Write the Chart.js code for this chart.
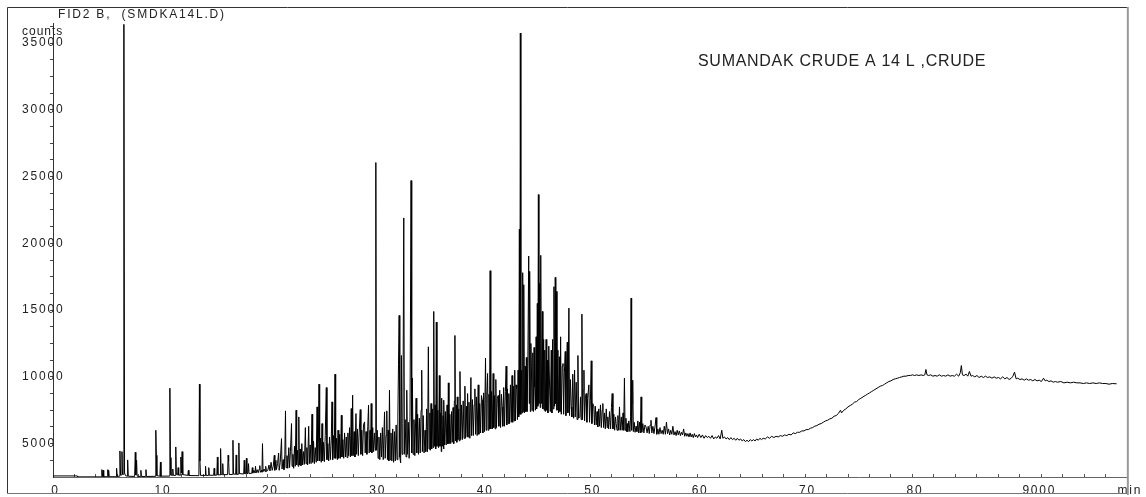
<!DOCTYPE html>
<html>
<head>
<meta charset="utf-8">
<script src="https://cdn.jsdelivr.net/npm/chart.js@4.4.1/dist/chart.umd.min.js"></script>
<style>
  html, body { margin: 0; padding: 0; background: #fff; }
  canvas { display: block; }
</style>
</head>
<body>
<canvas id="chrom" width="1146" height="497"></canvas>
<script>
// retention time (min), detector counts
const earlyTrace = [
  [0,2580],[2.25,2580],[2.3,2510],[4.5,2510],[4.55,3050],[4.6,2520],[4.63,2520],[4.67,3000],[4.72,2520],
  [5.05,2520],[5.1,3050],[5.15,2530],[5.18,3000],[5.23,2520],[5.87,2520],[5.92,3150],[5.97,2550],
  [6.18,2560],[6.23,4450],[6.29,2650],[6.37,2650],[6.42,4400],[6.47,2700],[6.55,2700],[6.6,36400],
  [6.66,2800],[6.75,2600],[6.9,2560],[6.95,3780],[7.0,2560],[7.6,2540],[7.66,4350],[7.71,2650],
  [7.78,3750],[7.83,2560],[8.13,2540],[8.18,3000],[8.23,2540],[8.6,2540],[8.65,3050],[8.7,2540],
  [9.5,2550],[9.57,6000],[9.62,4125],[9.67,2600],[9.95,2560],[10.0,3620],[10.05,2560],[10.82,2570],
  [10.88,9150],[10.93,3950],[10.98,2650],[11.1,2620],[11.15,3100],[11.2,2620],[11.38,2620],[11.43,4750],
  [11.48,2700],[11.6,2650],[11.65,3200],[11.7,2640],[11.85,2640],[11.9,4000],[11.95,2800],[12.02,4400],
  [12.08,2680],[12.55,2620],[12.6,3000],[12.65,2610],[13.58,2600],[13.63,9450],[13.68,3700],[13.73,2620],
  [14.15,2620],[14.2,3300],[14.25,2620],[14.45,2620],[14.5,3200],[14.55,2630],[14.95,2630],[15.0,3150],
  [15.05,2630],[15.25,2640],[15.3,4000],[15.35,2660],[15.55,2660],[15.6,4630],[15.65,2700],[15.75,2670],
  [15.8,3500],[15.85,2670],[16.25,2680],[16.3,4130],[16.35,3700],[16.4,2690],[16.7,2690],[16.75,5250],
  [16.8,2720],[17.0,2700],[17.05,4150],[17.1,2700],[17.25,2710],[17.3,5050],[17.35,2760],[17.75,2720],
  [17.8,3750],[17.85,2750],[17.95,2750],[18.0,3900],[18.05,2760],[18.15,2760],[18.2,3500],[18.25,2760],
  [18.5,2780],[18.55,3200],[18.6,2790],[18.7,3000],[18.8,2800],[18.85,3300],[18.9,2800],[19.0,3050],
  [19.1,2820],[19.2,3100],[19.25,3350],[19.3,2850],[19.4,3000],[19.45,2860],[19.5,5000],[19.55,2900],
  [19.65,3100],[19.75,2900],[19.8,3300],[19.87,2920]
];

const riseTrace = [
  [20.0,3000],[20.1,3400],[20.2,2950],[20.3,3600],[20.4,3000],[20.5,3300],[20.6,4125],[20.65,3000],
  [20.75,3750],[20.8,3050],[20.9,3500],[21.0,4300],[21.05,3000],[21.15,3600],[21.27,5375],[21.32,3100],
  [21.42,3800],[21.5,3050],[21.58,4200],[21.64,7450],[21.69,3200],[21.78,4100],[21.85,3150],[21.95,4700],
  [22.02,3200],[22.1,4400],[22.2,6500],[22.25,3300],[22.33,4200],[22.4,3150],[22.48,4800],[22.55,3300],
  [22.63,7500],[22.68,3400],[22.75,4500],[22.82,3300],[22.88,7000],[22.93,3400],[23.0,4600],[23.08,3350],
  [23.16,5000],[23.24,3400],[23.32,4400],[23.4,3450],[23.49,6200],[23.55,3500],[23.63,4700],[23.7,3400],
  [23.8,6300],[23.86,3500],[23.94,4900],[24.02,3500],[24.11,7200],[24.17,3600],[24.25,5200],[24.33,3500],
  [24.41,4700],[24.5,3600],[24.58,7750],[24.64,3700],[24.7,5000],[24.76,9450],[24.82,3700],[24.9,5400],
  [24.97,3600],[25.04,6500],[25.1,3700],[25.18,5100],[25.26,3650],[25.34,5600],[25.44,9200],[25.5,3800],
  [25.58,5000],[25.66,3700],[25.74,5500],[25.82,3800],[25.9,5200],[25.97,8125],[26.03,3800],[26.1,5600],
  [26.18,3900],[26.25,10200],[26.31,3900],[26.4,5400],[26.47,3800],[26.53,6000],[26.6,3900],[26.68,5700],
  [26.76,3900],[26.84,7125],[26.9,4000],[26.98,5300],[27.06,3900],[27.14,5800],[27.22,4000],[27.3,5500],
  [27.37,3950],[27.45,5800],[27.52,4100],[27.6,6200],[27.68,4000],[27.76,7625],[27.82,4100],[27.89,8625],
  [27.95,4100],[28.03,5900],[28.11,4000],[28.2,7250],[28.26,4200],[28.34,6100],[28.42,4100],[28.5,5800],
  [28.6,7550],[28.66,4200],[28.74,6000],[28.82,4100],[28.9,6400],[29.0,6625],[29.06,4300],[29.14,5900],
  [29.22,4200],[29.3,6300],[29.37,7875],[29.43,4300],[29.51,6000],[29.56,4400],[29.62,8000],[29.68,4300],
  [29.76,6200],[29.84,4400],[29.92,5800],[30.0,4500],[30.05,26050]
];

const humpTrace = [
  [30.1,4500],[30.18,6000],[30.26,3900],[30.34,5500],[30.42,3800],[30.5,5800],[30.58,4000],[30.66,6200],
  [30.74,3800],[30.86,7375],[30.92,3900],[31.0,5600],[31.07,7450],[31.13,3800],[31.2,6000],[31.26,3700],
  [31.32,9000],[31.38,3800],[31.46,5800],[31.54,3700],[31.62,6100],[31.7,3600],[31.78,5900],[31.86,3700],
  [31.94,6400],[32.02,3800],[32.1,7000],[32.16,10950],[32.22,14600],[32.28,4000],[32.36,3550],[32.43,11600],
  [32.49,4200],[32.57,6500],[32.65,21900],[32.71,4200],[32.78,6800],[32.86,4000],[32.93,9000],[32.99,4200],
  [33.07,6600],[33.15,3900],[33.23,7000],[33.33,24700],[33.39,4300],[33.45,9900],[33.52,4200],[33.6,6800],
  [33.68,4100],[33.8,8400],[33.86,4300],[33.94,7200],[34.02,4200],[34.1,6900],[34.18,4300],[34.26,7500],
  [34.32,10500],[34.38,4400],[34.46,7100],[34.54,4300],[34.63,6000],[34.7,4400],[34.78,7600],[34.86,4400],
  [34.94,12250],[35.0,4600],[35.08,7300],[35.12,4500],[35.19,8000],[35.25,4600],[35.32,7600],[35.38,4700],
  [35.44,14900],[35.5,4800],[35.57,7900],[35.62,4600],[35.68,14100],[35.74,4800],[35.82,7500],[35.89,4700],
  [35.96,10100],[36.02,4800],[36.1,7300],[36.14,4400],[36.18,8400],[36.24,4800],[36.31,7100],[36.35,4600],
  [36.39,8250],[36.45,4900],[36.52,7400],[36.6,4900],[36.68,7900],[36.74,5000],[36.8,9550],[36.86,5000],
  [36.94,7200],[37.02,5000],[37.1,7400],[37.16,5100],[37.24,7700],[37.3,5000],[37.36,8200],[37.41,13100],
  [37.47,5200],[37.55,7900],[37.59,5100],[37.63,8500],[37.69,5300],[37.76,7600],[37.82,5200],[37.88,10400],
  [37.94,5300],[38.02,7900],[38.1,5300],[38.18,8200],[38.26,5400],[38.34,9300],[38.4,5400],[38.48,7800],
  [38.54,5500],[38.59,8750],[38.65,5500],[38.72,8100],[38.8,5400],[38.9,9950],[38.96,5600],[39.04,8300],
  [39.12,5600],[39.2,7900],[39.27,9100],[39.33,5700],[39.41,8500],[39.48,5600],[39.58,9400],[39.64,5700],
  [39.72,8000],[39.8,5800],[39.88,8600],[39.95,8250],[40.01,5800],[40.09,8800],[40.17,5900],[40.26,11400],
  [40.32,6000],[40.38,8600],[40.45,10250],[40.51,6000],[40.58,8700],[40.63,6100],[40.69,17950],[40.75,6100],
  [40.82,8900],[40.9,6100],[40.97,10250],[41.03,6200],[41.1,8600],[41.16,6100],[41.22,9800],[41.28,6200],
  [41.36,8400],[41.44,8600],[41.5,6300],[41.58,9000],[41.66,6200],[41.74,8700],[41.81,7750],[41.87,6300],
  [41.95,9200],[42.03,6300],[42.11,8900],[42.18,10800],[42.24,6400],[42.3,9100],[42.37,6500],[42.43,8750],
  [42.5,6500],[42.58,9400],[42.66,6600],[42.73,10100],[42.79,6600],[42.86,9300],[42.92,6700],[42.98,10500],
  [43.04,6700],[43.1,9400],[43.17,9100],[43.23,6800],[43.29,10500],[43.35,7000],[43.41,21050],[43.46,7200],
  [43.5,35750],[43.55,7200],[43.62,10500],[43.67,7300],[43.72,17800],[43.77,7400],[43.82,16900],[43.88,7300],
  [43.95,10800],[44.0,7400],[44.06,11450],[44.12,7400],[44.2,11000],[44.28,19050],[44.33,8000],[44.37,17900],
  [44.43,7400],[44.48,12500],[44.53,10750],[44.59,7500],[44.66,11800],[44.72,7400],[44.78,12200],[44.84,9250],
  [44.9,7500],[44.97,13000],[45.02,7600],[45.08,15500],[45.13,7800],[45.18,23650],[45.23,8000],[45.3,17000],
  [45.35,7700],[45.4,19100],[45.45,8000],[45.55,14900],[45.6,7600],[45.67,12800],[45.72,7500],[45.77,12000],
  [45.83,7400],[45.9,12800],[45.96,7500],[46.01,11250],[46.07,7300],[46.15,12300],[46.23,8950],[46.29,7400],
  [46.38,12000],[46.44,7300],[46.5,12800],[46.56,7600],[46.63,16750],[46.69,7800],[46.75,17450],[46.8,8000],
  [46.85,16400],[46.91,7500],[47.0,12000],[47.06,7300],[47.13,11500],[47.19,7400],[47.25,13000],[47.31,7200],
  [47.4,10800],[47.47,11000],[47.53,7200],[47.6,10300],[47.68,11900],[47.74,7100],[47.8,10500],[47.87,12600],
  [47.93,7300],[48.02,15150],[48.08,7100],[48.16,9800],[48.24,7750],[48.3,7000],[48.38,10200],[48.46,6900],
  [48.55,10500],[48.61,7000],[48.7,9600],[48.78,6800],[48.86,11600],[48.92,6900],[49.04,7000],[49.1,8500],
  [49.16,6800],[49.23,14700],[49.29,6800],[49.36,9000],[49.42,10500],[49.48,6700],[49.56,8600],[49.63,8750],
  [49.69,6600],[49.77,8400],[49.88,9400],[49.94,6600],[50.02,8200],[50.1,11200],[50.16,6500],[50.24,8000],
  [50.34,7750],[50.4,6400],[50.48,7800],[50.56,6400],[50.64,7400],[50.71,6250],[50.8,7600],[50.88,6300],
  [50.96,7900],[51.04,6200],[51.12,7500],[51.18,8000],[51.25,6200],[51.33,7300],[51.41,6100],[51.5,7600],
  [51.58,6200],[51.64,7000],[51.72,6100],[51.8,7400],[51.9,6100],[51.98,7700],[52.05,8750],[52.12,6100],
  [52.2,7200],[52.28,6000],[52.36,7000],[52.42,6500],[52.5,6000],[52.58,7100],[52.66,6000],[52.73,7750],
  [52.8,6000],[52.9,7000],[52.98,6000],[53.06,7300],[53.12,6000],[53.19,9900],[53.25,6000],[53.33,6900],
  [53.38,5900],[53.44,6500],[53.5,5900],[53.6,6700],[53.7,5900],[53.76,7000],[53.81,15900],[53.86,6000],
  [53.92,8000],[53.96,9750],[54.02,5900],[54.1,6600],[54.18,5850],[54.27,6300],[54.35,5900],[54.44,6700],
  [54.52,5800],[54.6,6600],[54.67,5800],[54.74,8500],[54.8,5850],[54.9,6500],[55.0,5800],[55.1,6400],
  [55.2,6250],[55.3,5800],[55.4,6300],[55.5,5750],[55.58,6400],[55.66,6750],[55.74,5800],[55.84,6300],
  [55.94,5750],[56.04,6300],[56.13,6950],[56.2,5700]
];

const tailTrace = [
  [56.3,6100],[56.4,5700],[56.5,6200],[56.6,5750],[56.7,6000],[56.8,5700],[56.9,6300],[57.0,5700],
  [57.1,6600],[57.2,5750],[57.3,6100],[57.4,5650],[57.5,6000],[57.6,5700],[57.7,6300],[57.8,5650],
  [57.9,5900],[58.0,5600],[58.1,6000],[58.2,5650],[58.3,5950],[58.4,5600],[58.5,5850],[58.6,5650],
  [58.7,6100],[58.8,5550],[58.9,5800],[59.0,5550],[59.1,5750],[59.2,5500],[59.3,5800],[59.4,5500],
  [59.5,5700],[59.6,5450],[59.7,5750],[59.8,5500],[59.9,5650],[60.0,5450],[60.15,5700],[60.3,5450],
  [60.45,5650],[60.6,5400],[60.75,5600],[60.9,5450],[61.05,5550],[61.2,5400],[61.35,5600],[61.5,5350],
  [61.65,5500],[61.8,5400],[61.95,5600],[62.1,5350],[62.25,6000],[62.35,5400],[62.5,5500],[62.65,5350],
  [62.8,5450],[62.95,5300],[63.1,5450],[63.25,5300],[63.4,5400],[63.55,5250],[63.7,5400],[63.85,5250],
  [64.0,5350],[64.15,5200],[64.3,5300],[64.45,5150],[64.6,5250],[64.75,5150],[64.9,5300],[65.05,5200],
  [65.2,5300],[65.35,5200],[65.5,5350],[65.65,5250],[65.8,5400],[65.95,5300],[66.1,5400],[66.3,5350],
  [66.5,5500],[66.7,5400],[66.9,5550],[67.1,5450],[67.3,5550],[67.5,5500],[67.7,5600],[67.9,5550],
  [68.1,5650],[68.3,5600],[68.5,5700],[68.7,5650],[68.9,5800],[69.1,5750],[69.3,5850],[69.5,5850],
  [69.7,5950],[69.9,5950],[70.1,6050],[70.3,6050],[70.5,6150],[70.7,6200],[70.9,6300],[71.1,6350],
  [71.3,6450],[71.5,6500],[71.7,6600],[71.9,6700],[72.1,6750]
];

const plateauTrace = [
  [72.3,6850],[72.5,6900],[72.7,7050],[72.9,7100],[73.1,7250],[73.3,7500],[73.4,7300],[73.6,7500],
  [73.8,7600],[74.0,7750],[74.2,7850],[74.4,7950],[74.6,8100],[74.8,8150],[75.0,8300],[75.2,8400],
  [75.4,8500],[75.6,8600],[75.8,8700],[76.0,8800],[76.2,8900],[76.4,9000],[76.6,9100],[76.8,9200],
  [77.0,9300],[77.2,9350],[77.4,9450],[77.6,9550],[77.8,9650],[78.0,9700],[78.2,9800],[78.4,9850],
  [78.6,9900],[78.8,9950],[79.0,10000],[79.2,10050],[79.4,10050],[79.6,10100],[79.8,10100],[80.0,10150],
  [80.2,10100],[80.4,10150],[80.6,10100],[80.8,10150],[81.0,10100],[81.15,10150],[81.25,10550],[81.35,10150],
  [81.5,10100],[81.7,10150],[81.9,10050],[82.1,10100],[82.3,10050],[82.5,10150],[82.7,10050],[82.9,10100],
  [83.1,10050],[83.3,10150],[83.5,10050],[83.7,10100],[83.9,10050],[84.1,10200],[84.3,10050],[84.45,10300],
  [84.55,10850],[84.65,10150],[84.8,10100],[85.0,10200],[85.15,10050],[85.3,10400],[85.45,10050],[85.6,10100],
  [85.8,10000],[86.0,10100],[86.2,9950],[86.4,10050],[86.6,9950],[86.8,10050],[87.0,9950],[87.2,10000],
  [87.4,9900],[87.6,10000],[87.8,9900],[88.0,9950],[88.2,9850],[88.4,10000],[88.6,9850],[88.8,9950],
  [89.0,9800],[89.2,9900],[89.35,10050],[89.5,10350],[89.65,9850],[89.8,9900],[90.0,9800],[90.2,9850],
  [90.4,9750],[90.6,9850],[90.8,9750],[91.0,9800],[91.2,9700],[91.4,9800],[91.6,9700],[91.8,9750],
  [92.0,9650],[92.2,9900],[92.35,9700],[92.5,9750],[92.7,9650],[92.9,9700],[93.1,9600],[93.3,9650],
  [93.5,9600],[93.8,9650],[94.1,9550],[94.4,9600],[94.7,9550],[95.0,9600],[95.3,9550],[95.6,9550],
  [95.9,9500],[96.2,9550],[96.5,9500],[96.8,9550],[97.1,9500],[97.4,9550],[97.7,9500],[98.0,9500],
  [98.3,9450],[98.6,9500],[99.0,9480]
];

const trace = [...earlyTrace, ...riseTrace, ...humpTrace, ...tailTrace, ...plateauTrace];

// axis labels
const xMajor = [0, 10, 20, 30, 40, 50, 60, 70, 80, 90, 100];
const xMajorText = ['0', '10', '20', '30', '40', '50', '60', '70', '80', '\u2007\u2007\u2007\u20079000', 'min'];
const yMajor = [5000, 10000, 15000, 20000, 25000, 30000, 35000];

const FONT = '"Liberation Sans", Arial, sans-serif';

const framePlugin = {
  id: 'frame',
  beforeDraw(chart) {
    chart.ctx.letterSpacing = '1.8px';
  },
  afterDraw(chart) {
    const ctx = chart.ctx;
    const area = chart.chartArea;
    ctx.save();
    // outer box
    ctx.lineWidth = 1;
    ctx.strokeStyle = '#333';
    ctx.beginPath();
    ctx.moveTo(7.5, 493.5);
    ctx.lineTo(7.5, 7.5);
    ctx.lineTo(area.right, 7.5);
    ctx.stroke();
    ctx.strokeStyle = '#777';
    ctx.beginPath();
    ctx.moveTo(7.5, 493.5);
    ctx.lineTo(area.right, 493.5);
    ctx.stroke();
    ctx.lineWidth = 2;
    ctx.strokeStyle = '#999';
    ctx.beginPath();
    ctx.moveTo(area.right + 0.5, 7);
    ctx.lineTo(area.right + 0.5, 495);
    ctx.stroke();

    // texts
    ctx.fillStyle = '#222';
    ctx.textBaseline = 'alphabetic';
    ctx.textAlign = 'left';
    ctx.font = '12px ' + FONT;
    ctx.letterSpacing = '1.8px';
    ctx.fillText('FID2 B,  (SMDKA14L.D)', 58, 18);
    ctx.letterSpacing = '1px';
    ctx.fillText('counts', 22, 35);
    ctx.font = '16px ' + FONT;
    ctx.letterSpacing = '0.7px';
    ctx.fillText('SUMANDAK CRUDE A 14 L ,CRUDE', 698, 66);
    ctx.restore();
    ctx.letterSpacing = '0px';
  }
};

new Chart(document.getElementById('chrom'), {
  type: 'line',
  data: {
    datasets: [{
      data: trace,
      borderColor: '#000',
      borderWidth: 1,
      pointRadius: 0,
      tension: 0,
      fill: false
    }]
  },
  options: {
    responsive: false,
    animation: false,
    devicePixelRatio: 1,
    events: [],
    layout: { padding: { top: 23, right: 15, left: 0, bottom: 0 } },
    plugins: { legend: { display: false }, tooltip: { enabled: false } },
    scales: {
      x: {
        type: 'linear',
        min: 0,
        max: 100,
        afterFit(s) { s.height = 20; },
        border: { display: true, color: '#666', width: 1 },
        grid: { drawOnChartArea: false, drawTicks: true, tickLength: -3, color: '#555' },
        ticks: {
          stepSize: 2,
          autoSkip: false,
          maxRotation: 0,
          padding: 9,
          labelOffset: 2.5,
          color: '#222',
          font: { family: FONT, size: 12 },
          callback: v => {
            const i = xMajor.indexOf(v);
            return i >= 0 ? xMajorText[i] : '';
          }
        }
      },
      y: {
        type: 'linear',
        min: 2500,
        max: 36500,
        afterFit(s) { s.width = 53; },
        afterBuildTicks(s) {
          const t = [];
          for (let v = 3750; v <= 36250; v += 1250) t.push({ value: v });
          s.ticks = t;
        },
        border: { display: true, color: '#333', width: 1 },
        grid: { drawOnChartArea: false, drawTicks: true, tickLength: 3, color: '#444' },
        ticks: {
          autoSkip: false,
          mirror: true,
          padding: -31,
          color: '#222',
          font: { family: FONT, size: 12 },
          callback: v => yMajor.includes(v) ? String(v) : ''
        }
      }
    }
  },
  plugins: [framePlugin]
});
</script>
</body>
</html>
